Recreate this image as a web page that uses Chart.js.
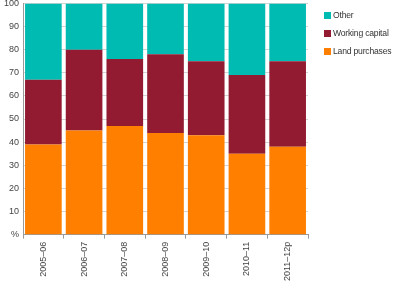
<!DOCTYPE html>
<html>
<head>
  <title>Funding shares</title>
  <script src="https://cdn.jsdelivr.net/npm/chart.js"></script>
  <style>
    body { margin: 0; background: #FFFFFF; font-family: "Liberation Sans", Arial, sans-serif; overflow: hidden; }
    .wrap { position: relative; width: 395px; height: 285px; overflow: hidden; }
    #shareChart { position: absolute; left: 0; top: -6px; }
    .legend { position: absolute; left: 324px; top: 9px; font-size: 8.6px; color: #333333; letter-spacing: -0.2px; }
    .legend div { height: 18px; line-height: 12px; white-space: nowrap; }
    .legend span { display: inline-block; width: 7px; height: 7px; margin-right: 2px; vertical-align: -1px; }
  </style>
</head>
<body>
  <div class="wrap">
    <canvas id="shareChart" width="395" height="291"></canvas>
    <div class="legend" id="legend"></div>
  </div>

  <script>
    const years = ['2005\u201306', '2006\u201307', '2007\u201308', '2008\u201309', '2009\u201310', '2010\u201311', '2011\u201312p'];
    const landPurchases = [39, 45, 47, 44, 43, 35, 38];
    const workingCapital = [28, 35, 29, 34, 32, 34, 37];
    const other = [33, 20, 24, 22, 25, 31, 25];
    const yTicks = [0, 10, 20, 30, 40, 50, 60, 70, 80, 90, 100];

    const seriesColors = {
      land: '#FF8000',
      wc: '#921B32',
      other: '#00BBB2'
    };

    // legend in the same order as the picture (top of stack first)
    const legendItems = [
      ['Other', seriesColors.other],
      ['Working capital', seriesColors.wc],
      ['Land purchases', seriesColors.land]
    ];
    document.getElementById('legend').innerHTML = legendItems
      .map(([name, col]) => `<div><span style="background:${col}"></span>${name}</div>`)
      .join('');

    const ctx = document.getElementById('shareChart').getContext('2d');
    const tickFont = { family: '"Liberation Sans", Arial, sans-serif', size: 9 };

    new Chart(ctx, {
      type: 'bar',
      data: {
        labels: years,
        datasets: [
          { label: 'Land purchases', data: landPurchases, backgroundColor: seriesColors.land },
          { label: 'Working capital', data: workingCapital, backgroundColor: seriesColors.wc },
          { label: 'Other', data: other, backgroundColor: seriesColors.other }
        ]
      },
      options: {
        responsive: false,
        animation: false,
        datasets: {
          bar: { barPercentage: 1, categoryPercentage: 0.9 }
        },
        layout: { padding: { top: 0, right: 87, bottom: 1, left: 0 } },
        plugins: {
          legend: { display: false },
          tooltip: { enabled: false }
        },
        scales: {
          x: {
            stacked: true,
            grid: { display: true, drawOnChartArea: false, tickLength: 4, color: '#9A9A9A' },
            border: { color: '#9A9A9A' },
            ticks: {
              minRotation: 90,
              maxRotation: 90,
              color: '#444444',
              font: tickFont,
              padding: 3
            }
          },
          y: {
            stacked: true,
            min: 0,
            max: 100,
            afterBuildTicks: (axis) => { axis.ticks = yTicks.map(v => ({ value: v })); },
            grid: { color: '#D4D4D4', tickLength: 0 },
            border: { color: '#9A9A9A' },
            ticks: {
              color: '#444444',
              font: tickFont,
              padding: 4,
              callback: (value) => value === 0 ? '%' : value
            }
          }
        }
      }
    });
  </script>
</body>
</html>
